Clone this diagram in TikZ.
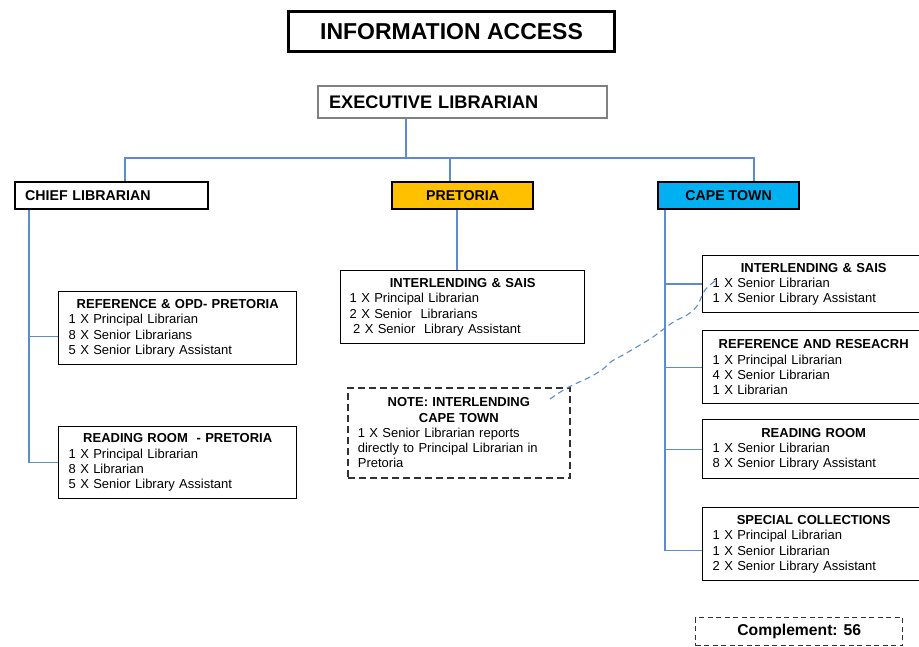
\documentclass[tikz,border=0pt]{standalone}
\usepackage{fontspec}
\setmainfont{Liberation Sans}
\definecolor{linkblue}{RGB}{91,140,203}
\definecolor{pretfill}{HTML}{FFC000}
\definecolor{capefill}{HTML}{00B0F0}
\definecolor{execgray}{RGB}{128,128,128}
\definecolor{dashgray}{RGB}{50,50,50}
\tikzset{
  conn/.style={draw=linkblue, line width=1.4pt},
  headbox/.style={draw=black, line width=2.2pt, anchor=north west, inner sep=0pt,
    font=\fontsize{14.2}{16}\selectfont\bfseries},
  unitbox/.style={draw=black, line width=1.4pt, fill=white, anchor=north west,
    inner xsep=10pt, inner ysep=0pt, align=left,
    font=\fontsize{13}{15.3}\selectfont},
  notebox/.style={unitbox, draw=dashgray, line width=1.7pt, dash pattern=on 7pt off 4pt},
}
\newcommand{\unittitle}[1]{{\centering\bfseries #1\par}}
\begin{document}
\begin{tikzpicture}[x=1pt, y=-1pt]
\useasboundingbox (0,0) rectangle (919,647);
\clip (0,0) rectangle (919,647);

% title and executive
\node[draw=black, line width=3pt, anchor=north west, minimum width=326pt, minimum height=40pt,
      inner sep=0pt, font=\fontsize{23}{26}\selectfont\bfseries] (title) at (287,10) {INFORMATION ACCESS};
\node[draw=execgray, line width=2pt, anchor=north west, minimum width=289pt, minimum height=32pt,
      text width=267pt, inner xsep=11pt, inner ysep=0pt, align=left,
      font=\fontsize{18.2}{20}\selectfont\bfseries] (exec) at (317,85) {EXECUTIVE LIBRARIAN};

% second level
\node[headbox, fill=white, minimum width=193pt, minimum height=27pt, text width=173pt,
      inner xsep=10pt, align=left] (chief) at (14,181) {CHIEF LIBRARIAN};
\node[headbox, fill=pretfill, minimum width=141pt, minimum height=27pt] (pretoria) at (391,181) {PRETORIA};
\node[headbox, fill=capefill, minimum width=141pt, minimum height=27pt] (cape) at (657,181) {CAPE TOWN};

% bus coordinates
\coordinate (bus) at (406,158);
\coordinate (busL) at (125,158);
\coordinate (busR) at (754,158);
\coordinate (pretTap) at (450,158);
\coordinate (chiefTrunk) at (29,0);
\coordinate (pretStem) at (457,0);
\coordinate (capeStem) at (665,0);

% units under the chief librarian
\node[unitbox, minimum width=238pt, minimum height=73pt, text width=218pt] (refpre) at (58,291)
  {\unittitle{REFERENCE \& OPD- PRETORIA}1 X Principal Librarian\\8 X Senior Librarians\\5 X Senior Library Assistant};
\node[unitbox, minimum width=238pt, minimum height=72pt, text width=218pt] (readpre) at (58,426)
  {\unittitle{READING ROOM\ \ - PRETORIA}1 X Principal Librarian\\8 X Librarian\\5 X Senior Library Assistant};

% unit under pretoria
\node[unitbox, minimum width=244pt, minimum height=73pt, text width=226pt, inner xsep=9pt] (ilpre) at (340,270)
  {\unittitle{INTERLENDING \& SAIS}1 X Principal Librarian\\2 X Senior\ \ Librarians\\\hspace*{3.5pt}2 X Senior\ \ Library Assistant};

% note
\node[notebox, minimum width=222pt, minimum height=90pt, text width=202pt] (note) at (347,387)
  {\unittitle{NOTE: INTERLENDING\\CAPE TOWN}1 X Senior Librarian reports\\directly to Principal Librarian in\\Pretoria};

% units under cape town
\node[unitbox, minimum width=222pt, minimum height=57pt, text width=202pt] (ctil) at (702,255)
  {\unittitle{INTERLENDING \& SAIS}1 X Senior Librarian\\1 X Senior Library Assistant};
\node[unitbox, minimum width=222pt, minimum height=73pt, text width=202pt] (ctref) at (702,330)
  {\unittitle{REFERENCE AND RESEACRH}1 X Principal Librarian\\4 X Senior Librarian\\1 X Librarian};
\node[unitbox, minimum width=222pt, minimum height=59pt, text width=202pt] (ctread) at (702,419)
  {\unittitle{READING ROOM}1 X Senior Librarian\\8 X Senior Library Assistant};
\node[unitbox, minimum width=222pt, minimum height=73pt, text width=202pt] (ctspec) at (702,507)
  {\unittitle{SPECIAL COLLECTIONS}1 X Principal Librarian\\1 X Senior Librarian\\2 X Senior Library Assistant};

% complement
\node[draw=dashgray, line width=1.4pt, dash pattern=on 5pt off 3.5pt, anchor=north west,
      minimum width=207pt, minimum height=28pt, inner sep=0pt,
      font=\fontsize{15.7}{18}\selectfont\bfseries] (compl) at (695,617) {Complement: 56};

% connectors
\draw[conn] (exec.south -| bus) -- (bus);
\draw[conn] (chief.north -| busL) -- (busL) -- (busR) -- (cape.north -| busR);
\draw[conn] (pretTap) -- (pretoria.north -| pretTap);
\draw[conn] (chief.south -| chiefTrunk) |- ([yshift=-8.5pt]refpre.west);
\draw[conn] (chief.south -| chiefTrunk) |- (readpre.west);
\draw[conn] (pretoria.south -| pretStem) -- (ilpre.north -| pretStem);
\draw[conn] (cape.south -| capeStem) |- ([yshift=-6.5pt]ctspec.west);
\draw[conn] (cape.south -| capeStem) |- (ctil.west);
\draw[conn] (cape.south -| capeStem) |- (ctref.west);
\draw[conn] (cape.south -| capeStem) |- (ctread.west);

% dashed reporting line from the note to cape town interlending
\coordinate (noteTail) at (550,399);
\coordinate (ilTip) at (715,281);
\draw[draw=linkblue, line width=1.1pt, dash pattern=on 6pt off 4pt]
  plot[smooth, tension=0.6] coordinates {(noteTail) (567,388) (590,377) (603,369) (612,361)
    (623,355) (640,345) (653,337) (665,328) (675,321) (687,315) (697,306) (705,290) (ilTip)};
\end{tikzpicture}
\end{document}
